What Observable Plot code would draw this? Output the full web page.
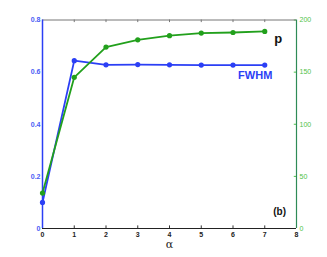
<!DOCTYPE html>
<html>
<head>
<meta charset="utf-8">
<script src="https://cdn.jsdelivr.net/npm/d3@7"></script>
<script src="https://cdn.jsdelivr.net/npm/@observablehq/plot@0.6"></script>
<style>
html,body{margin:0;padding:0;background:#fff;}
</style>
</head>
<body>
<div id="chart"></div>
<script>
const alpha = [0, 1, 2, 3, 4, 5, 6, 7];
const fwhm = [0.10, 0.644, 0.628, 0.629, 0.628, 0.627, 0.627, 0.627];
const pVals = [34, 145, 174, 181, 185, 187.5, 188, 189];
const xTicks = [0, 1, 2, 3, 4, 5, 6, 7, 8];
const leftTicks = [0, 0.2, 0.4, 0.6, 0.8];
const rightTicks = [0, 50, 100, 150, 200];

const rightMax = 200, leftMax = 0.8;
const toLeft = v => v * leftMax / rightMax;

const blue = "#2b3ff5";
const green = "#22a01c";
const blueText = "#4a5cf5";
const greenText = "#4fc24a";

const fw = alpha.map((a, i) => ({a, v: fwhm[i]}));
const pp = alpha.map((a, i) => ({a, v: toLeft(pVals[i])}));

const chart = Plot.plot({
  width: 327,
  height: 257,
  marginLeft: 42,
  marginRight: 31,
  marginTop: 19.5,
  marginBottom: 29,
  style: {fontFamily: "Liberation Sans, Arial, sans-serif", background: "#fff"},
  x: {domain: [0, 8]},
  y: {domain: [0, 0.8]},
  marks: [
    Plot.axisX(xTicks, {anchor: "bottom", tickSize: 0, tickPadding: 4, fontSize: 7, fontWeight: "bold", fill: "#222", label: null}),
    Plot.axisY(leftTicks, {anchor: "left", tickSize: 0, tickPadding: 2, fontSize: 7, fontWeight: "bold", fill: blueText, label: null, tickFormat: d => d === 0 ? "0" : d3.format(".1f")(d)}),
    Plot.axisY(rightTicks.map(toLeft), {anchor: "right", tickSize: 0, tickPadding: 3, fontSize: 7, fill: greenText, label: null, tickFormat: d => String(Math.round(d * rightMax / leftMax))}),
    // inward tick marks
    Plot.ruleX(xTicks.slice(1, -1), {x: d => d, y1: 0, y2: 0.01, stroke: "#333", strokeWidth: 1}),
    Plot.ruleX(xTicks.slice(1, -1), {x: d => d, y1: 0.8, y2: 0.79, stroke: "#777", strokeWidth: 1}),
    Plot.ruleY(rightTicks.slice(1).map(toLeft), {y: d => d, x1: 7.93, x2: 8, stroke: greenText, strokeWidth: 1}),
    // frame sides
    Plot.ruleY([0.8], {stroke: "#777", strokeWidth: 1}),
    Plot.ruleY([0], {stroke: "#222", strokeWidth: 1.2}),
    Plot.ruleX([0], {stroke: blue, strokeWidth: 1.5}),
    Plot.ruleX([8], {stroke: "#2e8b57", strokeWidth: 1.2}),
    // series
    Plot.line(fw, {x: "a", y: "v", stroke: blue, strokeWidth: 1.8}),
    Plot.dot(fw, {x: "a", y: "v", fill: blue, r: 2.6}),
    Plot.line(pp, {x: "a", y: "v", stroke: green, strokeWidth: 1.8}),
    Plot.dot(pp, {x: "a", y: "v", fill: green, r: 2.6}),
    // labels
    Plot.text(["p"], {x: 7.3, y: 0.729, text: d => d, textAnchor: "start", fontSize: 13, fontWeight: "bold", fill: "#111"}),
    Plot.text(["FWHM"], {x: 6.7, y: 0.588, text: d => d, fontSize: 11, fontWeight: "bold", fill: blue}),
    Plot.text(["(b)"], {x: 7.47, y: 0.063, text: d => d, fontSize: 10, fontWeight: "bold", fill: "#111"}),
    Plot.text(["α"], {x: 4, y: -0.062, text: d => d, fontSize: 11, fill: "#222", fontFamily: "DejaVu Serif, serif"})
  ]
});
document.getElementById("chart").appendChild(chart);
</script>
</body>
</html>
